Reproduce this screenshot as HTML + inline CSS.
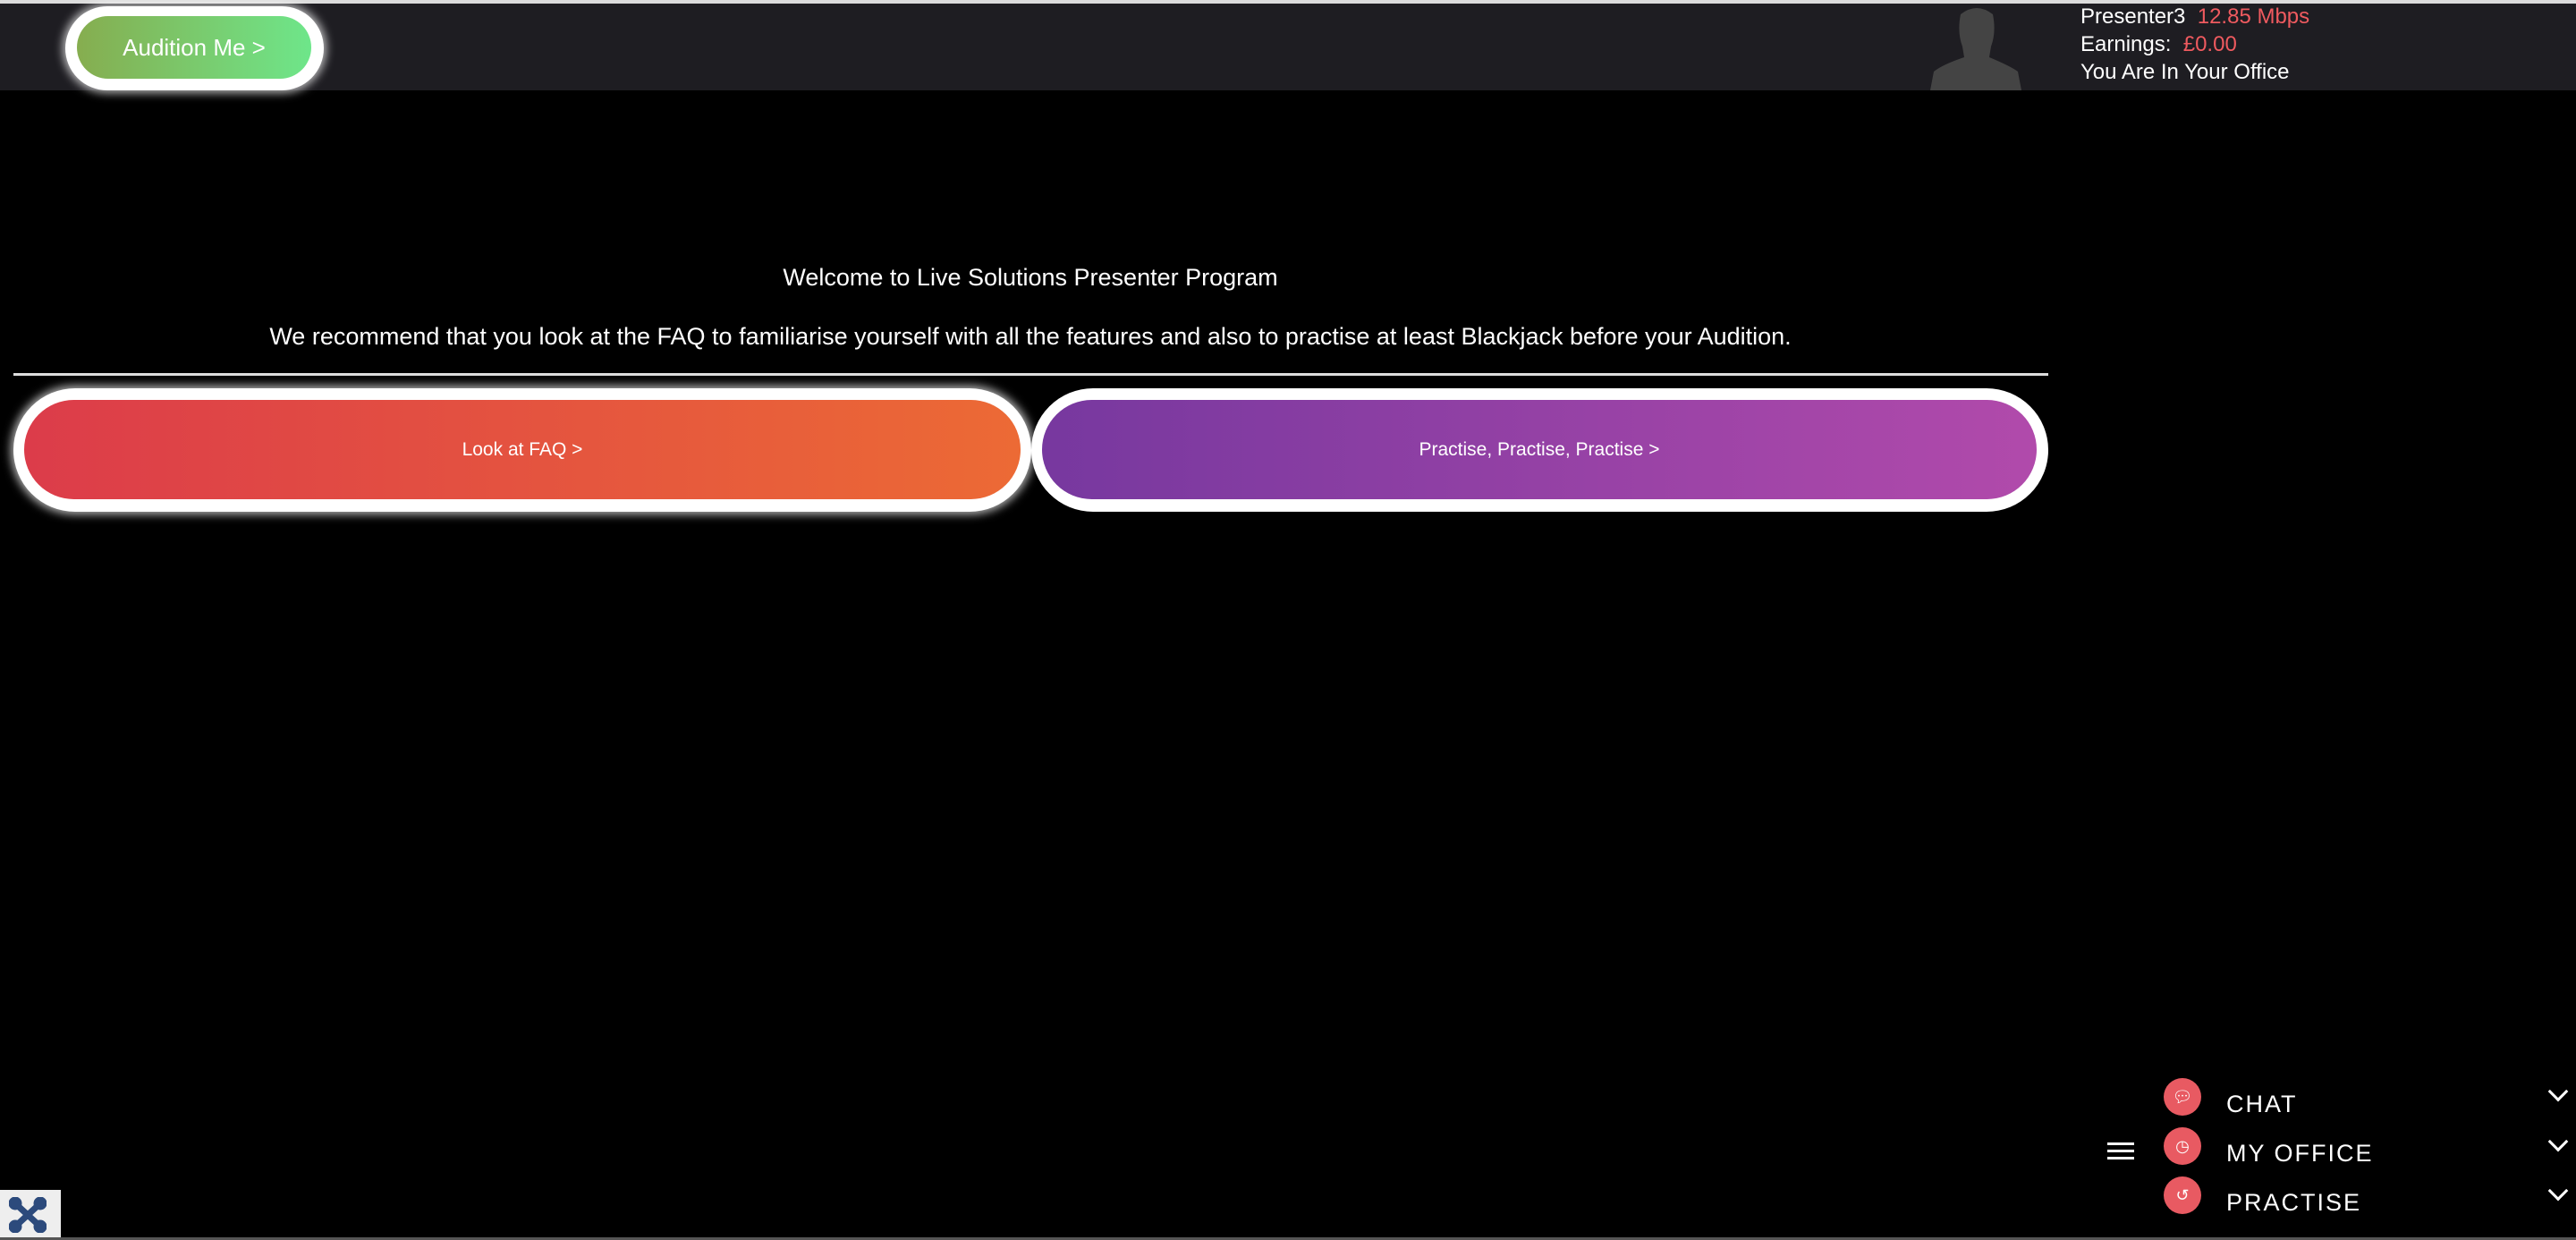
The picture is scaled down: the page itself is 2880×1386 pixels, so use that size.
<!DOCTYPE html>
<html><head><meta charset="utf-8"><style>
*{margin:0;padding:0;box-sizing:border-box}
body{width:2880px;height:1386px;background:#000;position:relative;overflow:hidden;font-family:"Liberation Sans",Arial,sans-serif;color:#fff}
.top{position:absolute;left:0;top:0;width:2880px;height:101px;background:#1e1d22;border-top:4px solid #dcdcdc}
.abs{position:absolute}
.pill{position:absolute;border-radius:999px;background:#fff;box-shadow:0 0 10px 3px rgba(255,255,255,.7)}
.inner{position:absolute;border-radius:999px;display:flex;align-items:center;justify-content:center;color:#fff}
.t{position:absolute;white-space:nowrap;font-size:24px;line-height:24px}
.red{color:#ef5a5f}
.circ{position:absolute;left:2419px;width:42px;height:42px;border-radius:50%;background:#e85a62;color:#fff;font-size:18px;line-height:42px;text-align:center}
.lab{position:absolute;left:2489px;font-size:27px;letter-spacing:2px;line-height:27px}
.chev{position:absolute;left:2852px;width:16px;height:16px;border-right:3px solid #fff;border-bottom:3px solid #fff;transform:rotate(45deg)}
</style></head><body>
<div class="top"></div>
<div class="pill" style="left:73px;top:7px;width:289px;height:94px"></div>
<div class="inner" style="left:86px;top:18px;width:262px;height:70px;background:linear-gradient(90deg,#86ad4f,#6ee68a);font-size:26px">Audition Me &gt;</div>
<svg class="abs" style="left:2158px;top:6px" width="102" height="95" viewBox="0 0 102 95">
<path d="M34 10 Q52 -4 70 10 Q74 30 68 46 L66 58 Q90 68 98 74 L102 95 L0 95 L4 74 Q14 66 38 58 L36 46 Q30 30 34 10Z" fill="#444"/></svg>
<div class="t" style="left:2326px;top:7px">Presenter3&nbsp; <span class="red">12.85 Mbps</span></div>
<div class="t" style="left:2326px;top:38px">Earnings:&nbsp; <span class="red">£0.00</span></div>
<div class="t" style="left:2326px;top:69px">You Are In Your Office</div>
<div class="t" style="left:0;width:2304px;text-align:center;top:297px;font-size:27px;line-height:27px">Welcome to Live Solutions Presenter Program</div>
<div class="t" style="left:0;width:2304px;text-align:center;top:362px;font-size:27px;line-height:28px">We recommend that you look at the FAQ to familiarise yourself with all the features and also to practise at least Blackjack before your Audition.</div>
<div class="abs" style="left:15px;top:417px;width:2275px;height:3px;background:#ddd"></div>
<div class="pill" style="left:15px;top:434px;width:1138px;height:138px"></div>
<div class="inner" style="left:27px;top:447px;width:1114px;height:111px;background:linear-gradient(90deg,#dc3c4a,#ec6a35);font-size:21px">Look at FAQ &gt;</div>
<div class="pill" style="left:1153px;top:434px;width:1137px;height:138px;box-shadow:none"></div>
<div class="inner" style="left:1165px;top:447px;width:1112px;height:111px;background:linear-gradient(90deg,#77389f,#b14aab);font-size:21px">Practise, Practise, Practise &gt;</div>
<div class="abs" style="left:2356px;top:1277px;width:30px;height:3px;background:#fff;box-shadow:0 8px 0 #fff,0 16px 0 #fff"></div>
<div class="circ" style="top:1205px">&#x1F4AC;&#xFE0E;</div>
<div class="circ" style="top:1260px">&#x25F7;</div>
<div class="circ" style="top:1315px">&#x21BA;</div>
<div class="lab" style="top:1221px">CHAT</div>
<div class="lab" style="top:1276px">MY OFFICE</div>
<div class="lab" style="top:1331px">PRACTISE</div>
<div class="chev" style="top:1212px"></div>
<div class="chev" style="top:1268px"></div>
<div class="chev" style="top:1323px"></div>
<div class="abs" style="left:0;top:1330px;width:68px;height:53px;background:#eee"></div>
<svg class="abs" style="left:10px;top:1338px" width="42" height="40" viewBox="0 0 42 40"><g stroke="#2c4a7c" stroke-width="7" fill="#2c4a7c"><line x1="8" y1="8" x2="34" y2="32"/><line x1="34" y1="8" x2="8" y2="32"/><circle cx="7" cy="7" r="4"/><circle cx="35" cy="7" r="4"/><circle cx="7" cy="33" r="4"/><circle cx="35" cy="33" r="4"/></g></svg>
<div class="abs" style="left:0;top:1383px;width:2880px;height:3px;background:#555"></div>
</body></html>
